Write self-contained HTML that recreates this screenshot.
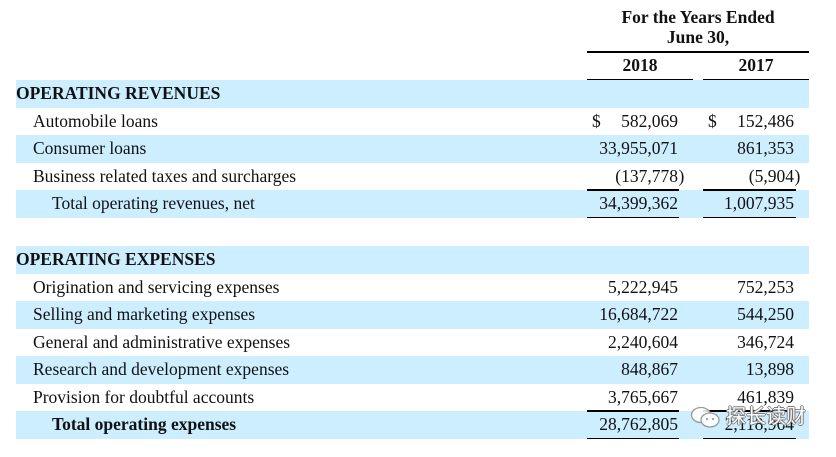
<!DOCTYPE html>
<html>
<head>
<meta charset="utf-8">
<style>
  html, body { margin:0; padding:0; }
  body { width:836px; height:457px; background:#fff; position:relative; overflow:hidden;
         font-family:"Liberation Serif","Noto Serif CJK SC",serif; font-size:17.5px; color:#111; }
  .band { position:absolute; left:16px; width:793px; background:#cceeff; }
  .row { position:absolute; height:27.5px; line-height:27.5px; white-space:nowrap; }
  .lbl { left:33px; }
  .hd { left:16px; font-weight:bold; }
  .tot { left:52px; }
  .n1 { position:absolute; right:158px; white-space:nowrap; height:27.5px; line-height:27.5px; text-align:right; }
  .n2 { position:absolute; right:42px; white-space:nowrap; height:27.5px; line-height:27.5px; text-align:right; }
  .rp { position:absolute; white-space:nowrap; height:27.5px; line-height:27.5px; }
  .line { position:absolute; height:1.5px; background:#000; }
  .h { position:absolute; font-weight:bold; line-height:20px; height:20px; text-align:center; white-space:nowrap; }
</style>
</head>
<body>
<!-- bands -->
<div class="band" style="top:80px;height:27.5px;"></div>
<div class="band" style="top:135px;height:27.5px;"></div>
<div class="band" style="top:190px;height:27.5px;"></div>
<div class="band" style="top:246px;height:27.5px;"></div>
<div class="band" style="top:301px;height:27.5px;"></div>
<div class="band" style="top:356px;height:27.5px;"></div>
<div class="band" style="top:411px;height:27.5px;"></div>

<!-- header -->
<div class="h" style="left:587px;width:222px;top:7.4px;">For the Years Ended</div>
<div class="h" style="left:587px;width:222px;top:27.4px;">June 30,</div>
<div class="line" style="left:587px;width:222px;top:51px;"></div>
<div class="h" style="left:587px;width:106px;top:55.1px;">2018</div>
<div class="h" style="left:703px;width:106px;top:55.1px;">2017</div>
<div class="line" style="left:587px;width:106px;top:78.5px;"></div>
<div class="line" style="left:703px;width:106px;top:78.5px;"></div>

<!-- revenues -->
<div class="row hd" style="top:80px;">OPERATING REVENUES</div>

<div class="row lbl" style="top:107.5px;">Automobile loans</div>
<div class="rp" style="left:592px;top:107.5px;">$</div>
<div class="n1" style="top:107.5px;">582,069</div>
<div class="rp" style="left:708px;top:107.5px;">$</div>
<div class="n2" style="top:107.5px;">152,486</div>

<div class="row lbl" style="top:135px;">Consumer loans</div>
<div class="n1" style="top:135px;">33,955,071</div>
<div class="n2" style="top:135px;">861,353</div>

<div class="row lbl" style="top:162.5px;">Business related taxes and surcharges</div>
<div class="n1" style="top:162.5px;">(137,778</div>
<div class="rp" style="left:678.5px;top:162.5px;">)</div>
<div class="n2" style="top:162.5px;">(5,904</div>
<div class="rp" style="left:794.5px;top:162.5px;">)</div>
<div class="line" style="left:587px;width:92px;top:189px;"></div>
<div class="line" style="left:703px;width:93px;top:189px;"></div>

<div class="row tot" style="top:190px;">Total operating revenues, net</div>
<div class="n1" style="top:190px;">34,399,362</div>
<div class="n2" style="top:190px;">1,007,935</div>
<div class="line" style="left:587px;width:92px;top:216.5px;"></div>
<div class="line" style="left:703px;width:93px;top:216.5px;"></div>

<!-- expenses -->
<div class="row hd" style="top:246px;">OPERATING EXPENSES</div>

<div class="row lbl" style="top:273.5px;">Origination and servicing expenses</div>
<div class="n1" style="top:273.5px;">5,222,945</div>
<div class="n2" style="top:273.5px;">752,253</div>

<div class="row lbl" style="top:301px;">Selling and marketing expenses</div>
<div class="n1" style="top:301px;">16,684,722</div>
<div class="n2" style="top:301px;">544,250</div>

<div class="row lbl" style="top:328.5px;">General and administrative expenses</div>
<div class="n1" style="top:328.5px;">2,240,604</div>
<div class="n2" style="top:328.5px;">346,724</div>

<div class="row lbl" style="top:356px;">Research and development expenses</div>
<div class="n1" style="top:356px;">848,867</div>
<div class="n2" style="top:356px;">13,898</div>

<div class="row lbl" style="top:383.5px;">Provision for doubtful accounts</div>
<div class="n1" style="top:383.5px;">3,765,667</div>
<div class="n2" style="top:383.5px;">461,839</div>
<div class="line" style="left:587px;width:92px;top:410px;"></div>
<div class="line" style="left:703px;width:93px;top:410px;"></div>

<div class="row tot" style="top:411px;font-weight:bold;">Total operating expenses</div>
<div class="n1" style="top:411px;">28,762,805</div>
<div class="n2" style="top:411px;">2,118,964</div>
<div class="line" style="left:587px;width:92px;top:437.5px;"></div>
<div class="line" style="left:703px;width:93px;top:437.5px;"></div>

<!-- watermark -->
<svg style="position:absolute;left:690px;top:405px;" width="32" height="26" viewBox="0 0 32 26">
  <ellipse cx="11" cy="10" rx="9.5" ry="7.5" fill="#fff" fill-opacity="0.85" stroke="#9a9a9a" stroke-width="1.3"/>
  <ellipse cx="20" cy="15" rx="9" ry="7" fill="#fff" fill-opacity="0.9" stroke="#9a9a9a" stroke-width="1.3"/>
  <circle cx="17" cy="14" r="1.1" fill="#9a9a9a"/>
  <circle cx="23" cy="14" r="1.1" fill="#9a9a9a"/>
</svg>
<div style="position:absolute;left:726px;top:404px;font-family:'Liberation Sans','Noto Sans CJK SC',sans-serif;font-size:20px;line-height:26px;color:#fff;letter-spacing:0px;text-shadow:-1px 0 #7a7a7a,1px 0 #7a7a7a,0 -1px #7a7a7a,0 1px #7a7a7a;white-space:nowrap;">探长读财</div>
</body>
</html>
